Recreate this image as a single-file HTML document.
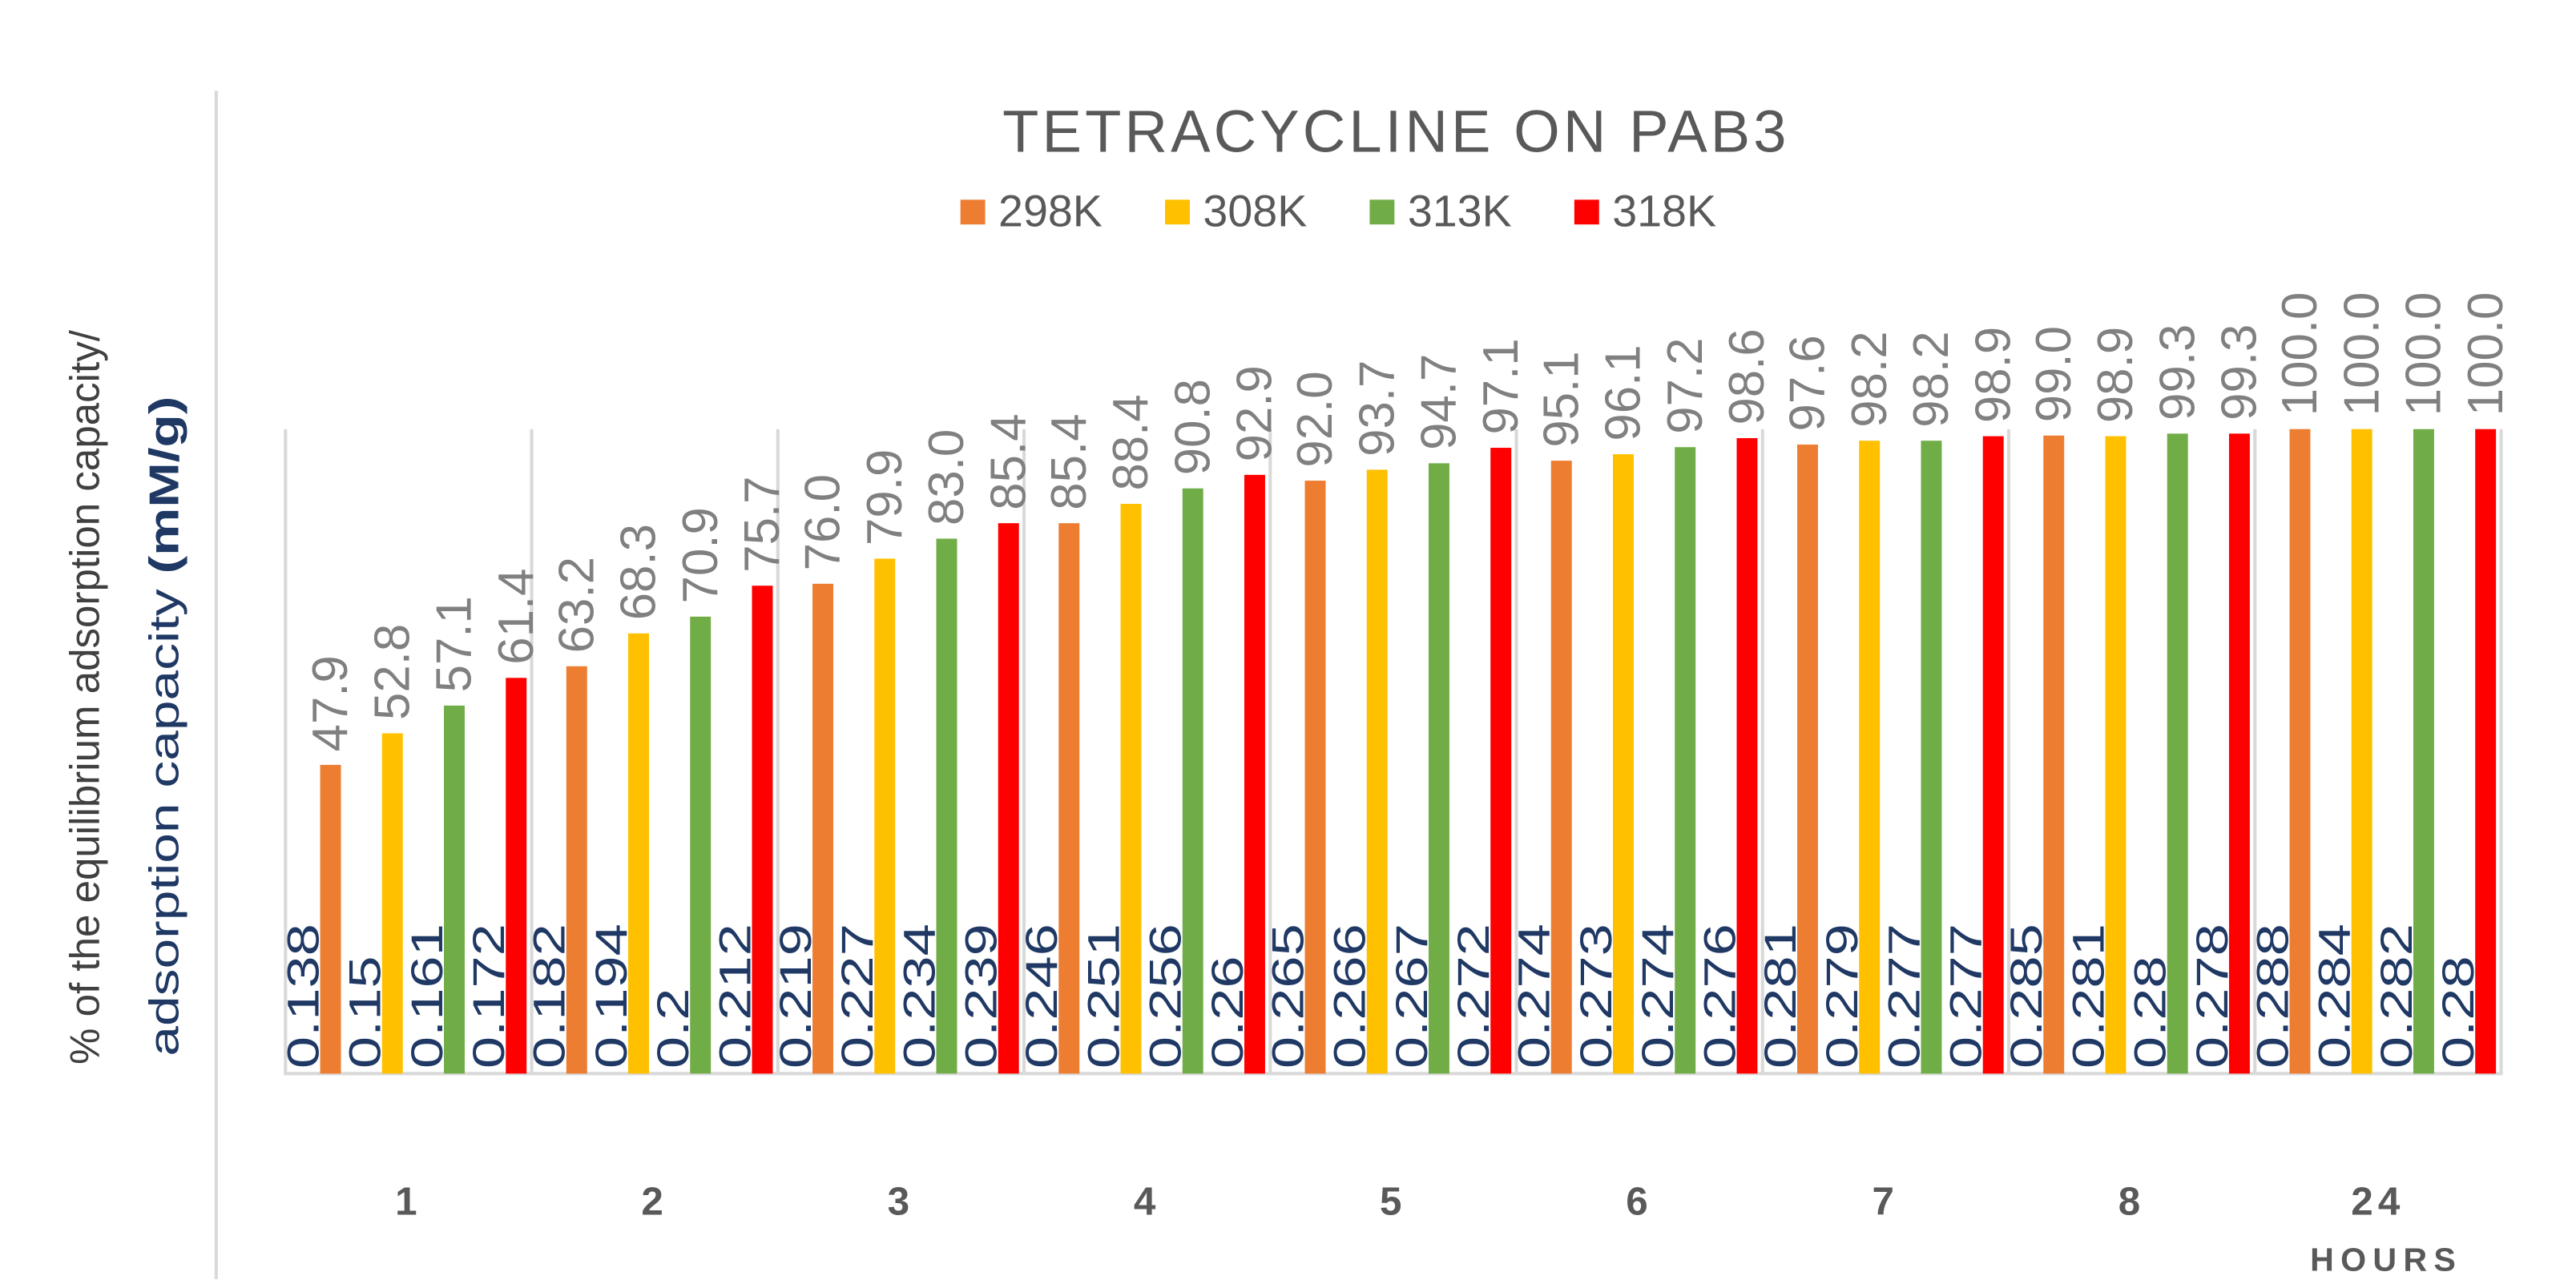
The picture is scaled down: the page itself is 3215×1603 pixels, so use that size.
<!DOCTYPE html>
<html><head><meta charset="utf-8"><style>
html,body{margin:0;padding:0;background:#fff;}
svg{display:block;}
text{font-family:"Liberation Sans",sans-serif;}
</style></head><body>
<svg id="chart" width="3215" height="1603" viewBox="0 0 1561 778" preserveAspectRatio="none" xmlns="http://www.w3.org/2000/svg">
<rect x="0" y="0" width="1561" height="778" fill="#fff"/>
<line x1="131" y1="55" x2="131" y2="775" stroke="#d9d9d9" stroke-width="2"/>
<text x="845" y="92" text-anchor="middle" font-size="36" fill="#595959" textLength="475" lengthAdjust="spacing">TETRACYCLINE ON PAB3</text>
<g id="legend"></g>
<text transform="translate(60,645) rotate(-90)" font-size="25" fill="#404040" textLength="445" lengthAdjust="spacingAndGlyphs">% of the equilibrium adsorption capacity/</text>
<text transform="translate(108,640) rotate(-90)" font-size="25" fill="#1f3864" textLength="400" lengthAdjust="spacingAndGlyphs">adsorption capacity <tspan font-weight="bold">(mM/g)</tspan></text>
<g id="grid"></g>
<g id="bars"></g>
<g id="labels"></g>
<g id="xaxis"></g>
<text x="1446" y="770" text-anchor="middle" font-size="20" font-weight="bold" fill="#595959" letter-spacing="4">HOURS</text>
</svg>
<script>
const categories = ["1","2","3","4","5","6","7","8","24"];
const seriesNames = ["298K","308K","313K","318K"];
const pct298 = [47.9,63.2,76.0,85.4,92.0,95.1,97.6,99.0,100.0];
const pct308 = [52.8,68.3,79.9,88.4,93.7,96.1,98.2,98.9,100.0];
const pct313 = [57.1,70.9,83.0,90.8,94.7,97.2,98.2,99.3,100.0];
const pct318 = [61.4,75.7,85.4,92.9,97.1,98.6,98.9,99.3,100.0];
const cap298 = ["0.138","0.182","0.219","0.246","0.265","0.274","0.281","0.285","0.288"];
const cap308 = ["0.15","0.194","0.227","0.251","0.266","0.273","0.279","0.281","0.284"];
const cap313 = ["0.161","0.2","0.234","0.256","0.267","0.274","0.277","0.28","0.282"];
const cap318 = ["0.172","0.212","0.239","0.26","0.272","0.276","0.277","0.278","0.28"];

const pctSeries = [pct298,pct308,pct313,pct318];
const capSeries = [cap298,cap308,cap313,cap318];
const colors = ["#ED7D31","#FFC000","#70AD47","#FF0000"];
const NS = "http://www.w3.org/2000/svg";
const plotL = 173, plotR = 1515.6, baseY = 650.5, topY = 260;
const groupW = (plotR - plotL) / categories.length;
function yScale(v){ return baseY - (v/100)*(baseY-topY); }
function xBar(i,j){ return plotL + i*groupW + 21 + j*37.5; }
const barW = 12.6;
function mk(tag, attrs, parent){ const e=document.createElementNS(NS,tag); for(const k in attrs) e.setAttribute(k,attrs[k]); parent.appendChild(e); return e; }

const grid = document.getElementById('grid');
for(let i=0;i<=categories.length;i++){
  const x = plotL + i*groupW;
  const l = mk('line',{x1:x,y1:topY,x2:x,y2:baseY,stroke:'#d9d9d9','stroke-width':2},grid);
  
  
}
const bl = mk('line',{x1:plotL-1,y1:baseY,x2:plotR+1,y2:baseY,stroke:'#d9d9d9','stroke-width':2},grid);



const bars = document.getElementById('bars');
const labels = document.getElementById('labels');
for(let j=0;j<seriesNames.length;j++){
  for(let i=0;i<categories.length;i++){
    const v = pctSeries[j][i];
    const x = xBar(i,j), y = yScale(v);
    const r = mk('rect',{x:x,y:y,width:barW,height:baseY-y,fill:colors[j]},bars);
    
    
    const cx = x + barW/2 + 10;
    const t = mk('text',{transform:'translate('+cx+','+(y-8)+') rotate(-90)','font-size':30,fill:'#808080'},labels);
    t.textContent = v.toFixed(1);
    
    
    const bx = x - 1;
    const t2 = mk('text',{transform:'translate('+bx+','+(baseY-3)+') rotate(-90) scale(1.3,1)','font-size':27,fill:'#1f3864'},labels);
    t2.textContent = capSeries[j][i];
    
    
  }
}

const xaxis = document.getElementById('xaxis');
for(let i=0;i<categories.length;i++){
  const t = mk('text',{x:plotL+groupW*(i+0.5),y:736,'text-anchor':'middle','font-size':24,'font-weight':'bold',fill:'#595959','letter-spacing':3},xaxis);
  t.textContent = categories[i];
  
  
}

const legend = document.getElementById('legend');
const legX = [582,706,830,954];
for(let j=0;j<seriesNames.length;j++){
  const g = mk('g',{},legend);
  
  
  const s = mk('rect',{x:legX[j],y:121,width:15,height:15,fill:colors[j]},g);
  
  
  const t = mk('text',{x:legX[j]+23,y:137,'font-size':27,fill:'#595959'},g);
  t.textContent = seriesNames[j];
  
  
}
</script>
</body></html>
